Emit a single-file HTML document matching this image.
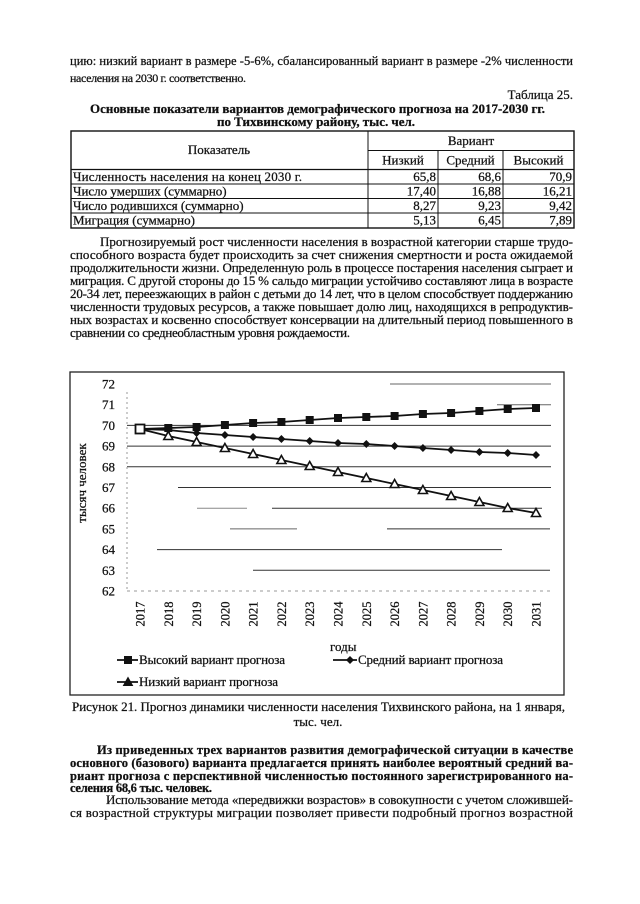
<!DOCTYPE html>
<html><head><meta charset="utf-8"><style>
html,body{margin:0;padding:0;background:#fff;}
svg{display:block;}
text{font-family:"Liberation Serif","DejaVu Serif",serif;fill:#111;}
.t text, text.t{stroke:#111;stroke-width:0.25;}
.b{font-weight:bold;}
</style></head><body>
<svg width="640" height="904" viewBox="0 0 640 904" xmlns="http://www.w3.org/2000/svg">
<rect x="0" y="0" width="640" height="904" fill="#fff"/>

<g class="t">
<text x="70" y="65" font-size="12.5" textLength="503" lengthAdjust="spacing">цию: низкий вариант в размере -5-6%, сбалансированный вариант в размере -2% численности</text>
<text x="70" y="82" font-size="12" textLength="176" lengthAdjust="spacing">населения на 2030 г. соответственно.</text>
<text x="573" y="99" font-size="13" text-anchor="end">Таблица 25.</text>
<text class="b" x="90" y="113" font-size="13" textLength="455" lengthAdjust="spacing">Основные показатели вариантов демографического прогноза на 2017-2030 гг.</text>
<text class="b" x="217" y="126" font-size="13" textLength="198" lengthAdjust="spacing">по Тихвинскому району, тыс. чел.</text>
</g>

<!-- table -->
<g stroke="#111" fill="none">
<rect x="71" y="131" width="503" height="97" stroke-width="1.4"/>
<line x1="368" y1="150.5" x2="574" y2="150.5" stroke-width="1"/>
<line x1="71" y1="169.5" x2="574" y2="169.5" stroke-width="1.2"/>
<line x1="71" y1="184" x2="574" y2="184" stroke-width="1"/>
<line x1="71" y1="198.5" x2="574" y2="198.5" stroke-width="1"/>
<line x1="71" y1="213" x2="574" y2="213" stroke-width="1"/>
<line x1="368" y1="131" x2="368" y2="228" stroke-width="1"/>
<line x1="438" y1="150.5" x2="438" y2="228" stroke-width="1"/>
<line x1="503" y1="150.5" x2="503" y2="228" stroke-width="1"/>
</g>
<g font-size="13" class="t">
<text x="219" y="154" text-anchor="middle">Показатель</text>
<text x="471" y="145" text-anchor="middle">Вариант</text>
<text x="403" y="164.5" text-anchor="middle">Низкий</text>
<text x="470.5" y="164.5" text-anchor="middle">Средний</text>
<text x="538.5" y="164.5" text-anchor="middle">Высокий</text>
<text x="73" y="181" textLength="229" lengthAdjust="spacing">Численность населения на конец 2030 г.</text>
<text x="73" y="195.5">Число умерших (суммарно)</text>
<text x="73" y="210">Число родившихся (суммарно)</text>
<text x="73" y="224.5">Миграция (суммарно)</text>
<text x="436" y="181" text-anchor="end">65,8</text>
<text x="501" y="181" text-anchor="end">68,6</text>
<text x="572" y="181" text-anchor="end">70,9</text>
<text x="436" y="195.5" text-anchor="end">17,40</text>
<text x="501" y="195.5" text-anchor="end">16,88</text>
<text x="572" y="195.5" text-anchor="end">16,21</text>
<text x="436" y="210" text-anchor="end">8,27</text>
<text x="501" y="210" text-anchor="end">9,23</text>
<text x="572" y="210" text-anchor="end">9,42</text>
<text x="436" y="224.5" text-anchor="end">5,13</text>
<text x="501" y="224.5" text-anchor="end">6,45</text>
<text x="572" y="224.5" text-anchor="end">7,89</text>
</g>

<!-- paragraph 2 -->
<g font-size="13" class="t">
<text x="100" y="246" textLength="473" lengthAdjust="spacing">Прогнозируемый рост численности населения в возрастной категории старше трудо-</text>
<text x="70" y="259" textLength="503" lengthAdjust="spacing">способного возраста будет происходить за счет снижения смертности и роста ожидаемой</text>
<text x="70" y="272" textLength="503" lengthAdjust="spacing">продолжительности жизни. Определенную роль в процессе постарения населения сыграет и</text>
<text x="70" y="285" textLength="503" lengthAdjust="spacing">миграция. С другой стороны до 15 % сальдо миграции устойчиво составляют лица в возрасте</text>
<text x="70" y="298" textLength="503" lengthAdjust="spacing">20-34 лет, переезжающих в район с детьми до 14 лет, что в целом способствует поддержанию</text>
<text x="70" y="311" textLength="503" lengthAdjust="spacing">численности трудовых ресурсов, а также повышает долю лиц, находящихся в репродуктив-</text>
<text x="70" y="324" textLength="503" lengthAdjust="spacing">ных возрастах и косвенно способствует консервации на длительный период повышенного в</text>
<text x="70" y="337" textLength="280" lengthAdjust="spacing">сравнении со среднеобластным уровня рождаемости.</text>
</g>

<!-- chart frame -->
<rect x="70" y="372" width="494" height="323" fill="none" stroke="#222" stroke-width="1.3"/>

<!-- gridlines -->
<g stroke="#333" stroke-width="1">
<line x1="390" y1="384" x2="551" y2="384" stroke="#666"/>
<line x1="497" y1="404.7" x2="551" y2="404.7" stroke="#666"/>
<line x1="127" y1="425.4" x2="551" y2="425.4"/>
<line x1="127" y1="446.1" x2="551" y2="446.1"/>
<line x1="127" y1="466.8" x2="551" y2="466.8"/>
<line x1="178" y1="487.5" x2="551" y2="487.5"/>
<line x1="197" y1="508.2" x2="247" y2="508.2" stroke="#888"/>
<line x1="272" y1="508.2" x2="542" y2="508.2"/>
<line x1="230" y1="528.9" x2="297" y2="528.9" stroke="#666"/>
<line x1="387" y1="528.9" x2="550" y2="528.9"/>
<line x1="157" y1="549.6" x2="502" y2="549.6"/>
<line x1="253" y1="570.3" x2="550" y2="570.3"/>
<line x1="127" y1="591" x2="550" y2="591" stroke="#999" stroke-dasharray="3,4"/>
<line x1="127" y1="392" x2="127" y2="591" stroke="#999" stroke-dasharray="2,3"/>
</g>

<!-- y labels -->
<g font-size="13" text-anchor="end" class="t">
<text x="115" y="388.5">72</text>
<text x="115" y="409.2">71</text>
<text x="115" y="429.9">70</text>
<text x="115" y="450.6">69</text>
<text x="115" y="471.3">68</text>
<text x="115" y="492">67</text>
<text x="115" y="512.7">66</text>
<text x="115" y="533.4">65</text>
<text x="115" y="554.1">64</text>
<text x="115" y="574.8">63</text>
<text x="115" y="595.5">62</text>
</g>
<text class="t" transform="translate(86,483) rotate(-90)" text-anchor="middle" font-size="13">тысяч человек</text>

<!-- x labels -->
<g font-size="12.5" text-anchor="middle" class="t">
<text transform="translate(144.5,614) rotate(-90)">2017</text>
<text transform="translate(172.8,614) rotate(-90)">2018</text>
<text transform="translate(201.1,614) rotate(-90)">2019</text>
<text transform="translate(229.4,614) rotate(-90)">2020</text>
<text transform="translate(257.6,614) rotate(-90)">2021</text>
<text transform="translate(285.9,614) rotate(-90)">2022</text>
<text transform="translate(314.2,614) rotate(-90)">2023</text>
<text transform="translate(342.5,614) rotate(-90)">2024</text>
<text transform="translate(370.8,614) rotate(-90)">2025</text>
<text transform="translate(399.1,614) rotate(-90)">2026</text>
<text transform="translate(427.4,614) rotate(-90)">2027</text>
<text transform="translate(455.6,614) rotate(-90)">2028</text>
<text transform="translate(483.9,614) rotate(-90)">2029</text>
<text transform="translate(512.2,614) rotate(-90)">2030</text>
<text transform="translate(540.5,614) rotate(-90)">2031</text>
</g>
<text class="t" x="330" y="651" font-size="13">годы</text>

<!-- series -->
<g fill="none" stroke="#111" stroke-width="1.8">
<polyline points="140,429 168.3,428 196.6,427 224.9,425 253.1,423 281.4,422 309.7,420 338,418 366.3,417 394.6,416 422.9,414 451.1,413 479.4,411 507.7,409 536,408"/>
<polyline points="140,429 168.3,430 196.6,433 224.9,435 253.1,437 281.4,439 309.7,441 338,443 366.3,444 394.6,446 422.9,448 451.1,450 479.4,452 507.7,453 536,455"/>
<polyline points="140,429 168.3,436 196.6,442 224.9,448 253.1,454 281.4,460 309.7,466 338,472 366.3,478 394.6,484 422.9,490 451.1,496 479.4,502 507.7,508 536,513"/>
</g>
<g fill="#111">
<rect x="164.3" y="424" width="8" height="8"/>
<rect x="192.6" y="423" width="8" height="8"/>
<rect x="220.9" y="421" width="8" height="8"/>
<rect x="249.1" y="419" width="8" height="8"/>
<rect x="277.4" y="418" width="8" height="8"/>
<rect x="305.7" y="416" width="8" height="8"/>
<rect x="334" y="414" width="8" height="8"/>
<rect x="362.3" y="413" width="8" height="8"/>
<rect x="390.6" y="412" width="8" height="8"/>
<rect x="418.9" y="410" width="8" height="8"/>
<rect x="447.1" y="409" width="8" height="8"/>
<rect x="475.4" y="407" width="8" height="8"/>
<rect x="503.7" y="405" width="8" height="8"/>
<rect x="532" y="404" width="8" height="8"/>
</g>
<g fill="#111">
<polygon points="168.3,426 172.3,430 168.3,434 164.3,430"/>
<polygon points="196.6,429 200.6,433 196.6,437 192.6,433"/>
<polygon points="224.9,431 228.9,435 224.9,439 220.9,435"/>
<polygon points="253.1,433 257.1,437 253.1,441 249.1,437"/>
<polygon points="281.4,435 285.4,439 281.4,443 277.4,439"/>
<polygon points="309.7,437 313.7,441 309.7,445 305.7,441"/>
<polygon points="338,439 342,443 338,447 334,443"/>
<polygon points="366.3,440 370.3,444 366.3,448 362.3,444"/>
<polygon points="394.6,442 398.6,446 394.6,450 390.6,446"/>
<polygon points="422.9,444 426.9,448 422.9,452 418.9,448"/>
<polygon points="451.1,446 455.1,450 451.1,454 447.1,450"/>
<polygon points="479.4,448 483.4,452 479.4,456 475.4,452"/>
<polygon points="507.7,449 511.7,453 507.7,457 503.7,453"/>
<polygon points="536,451 540,455 536,459 532,455"/>
</g>
<g fill="#fff" stroke="#111" stroke-width="1.6">
<polygon points="168.3,431.5 172.8,439.5 163.8,439.5"/>
<polygon points="196.6,437.5 201.1,445.5 192.1,445.5"/>
<polygon points="224.9,443.5 229.4,451.5 220.4,451.5"/>
<polygon points="253.1,449.5 257.6,457.5 248.6,457.5"/>
<polygon points="281.4,455.5 285.9,463.5 276.9,463.5"/>
<polygon points="309.7,461.5 314.2,469.5 305.2,469.5"/>
<polygon points="338,467.5 342.5,475.5 333.5,475.5"/>
<polygon points="366.3,473.5 370.8,481.5 361.8,481.5"/>
<polygon points="394.6,479.5 399.1,487.5 390.1,487.5"/>
<polygon points="422.9,485.5 427.4,493.5 418.4,493.5"/>
<polygon points="451.1,491.5 455.6,499.5 446.6,499.5"/>
<polygon points="479.4,497.5 483.9,505.5 474.9,505.5"/>
<polygon points="507.7,503.5 512.2,511.5 503.2,511.5"/>
<polygon points="536,508.5 540.5,516.5 531.5,516.5"/>
</g>
<rect x="135.5" y="424.5" width="9" height="9" fill="#fff" stroke="#111" stroke-width="1.8"/>

<!-- legend -->
<g stroke="#111" stroke-width="1.8">
<line x1="117" y1="660" x2="138" y2="660"/>
<line x1="333" y1="660" x2="357" y2="660"/>
<line x1="117" y1="682" x2="138" y2="682"/>
</g>
<rect x="124" y="656" width="8" height="8" fill="#111"/>
<polygon points="350,656 354,660 350,664 346,660" fill="#111"/>
<polygon points="128,677.5 132.5,685.5 123.5,685.5" fill="#111" stroke="#111" stroke-width="1"/>
<g font-size="13" class="t">
<text x="139" y="664" textLength="146" lengthAdjust="spacing">Высокий вариант прогноза</text>
<text x="358" y="664" textLength="145" lengthAdjust="spacing">Средний вариант прогноза</text>
<text x="139" y="686" textLength="139" lengthAdjust="spacing">Низкий вариант прогноза</text>
</g>

<!-- caption -->
<g class="t">
<text x="72" y="711" font-size="13" textLength="493" lengthAdjust="spacing">Рисунок 21. Прогноз динамики численности населения Тихвинского района, на 1 января,</text>
<text x="318" y="726" font-size="13" text-anchor="middle">тыс. чел.</text>
</g>

<!-- bold paragraph -->
<g font-size="12.5" class="t">
<text class="b" x="97" y="754" textLength="476" lengthAdjust="spacing">Из приведенных трех вариантов развития демографической ситуации в качестве</text>
<text class="b" x="70" y="767" textLength="503" lengthAdjust="spacing">основного (базового) варианта предлагается принять наиболее вероятный средний ва-</text>
<text class="b" x="70" y="780" textLength="503" lengthAdjust="spacing">риант прогноза с перспективной численностью постоянного зарегистрированного на-</text>
<text class="b" x="70" y="792" textLength="142" lengthAdjust="spacing">селения 68,6 тыс. человек.</text>
</g>
<g font-size="13" class="t">
<text x="106" y="804" textLength="467" lengthAdjust="spacing">Использование метода «передвижки возрастов» в совокупности с учетом сложившей-</text>
<text x="70" y="817" textLength="503" lengthAdjust="spacing">ся возрастной структуры миграции позволяет привести подробный прогноз возрастной</text>
</g>
</svg>
</body></html>
